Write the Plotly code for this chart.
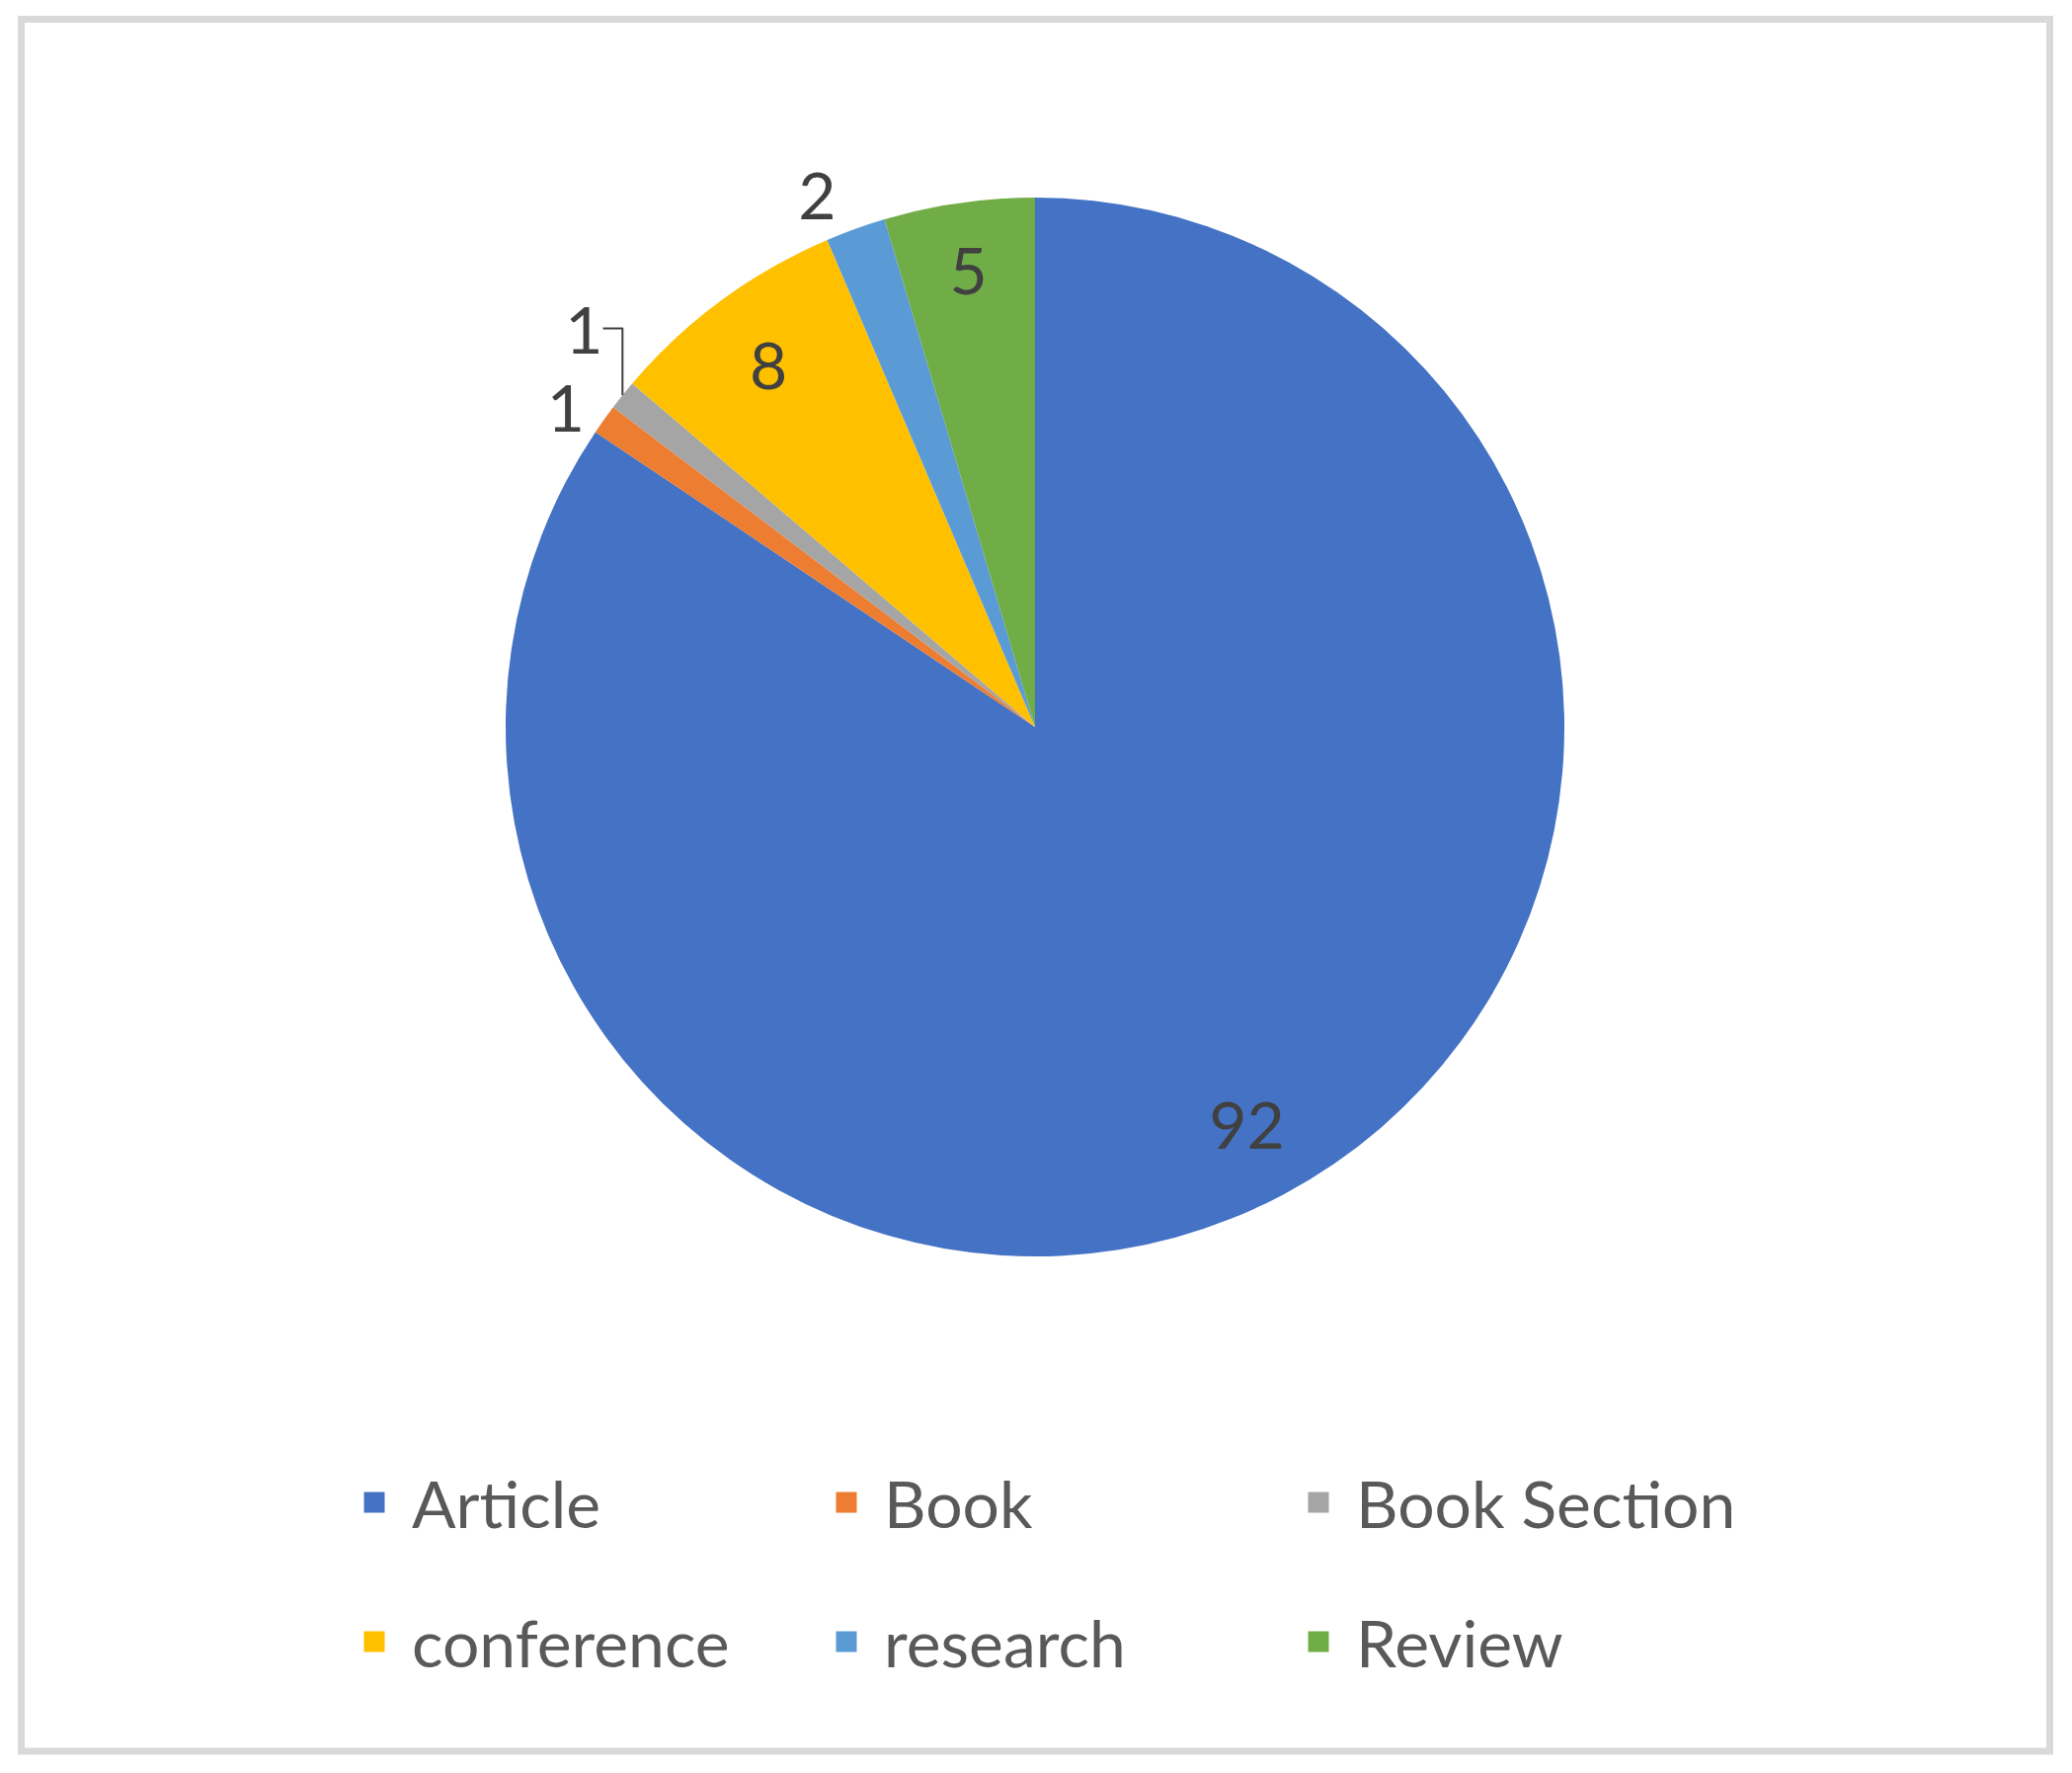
import plotly.graph_objects as go

# data
categories = ["Article", "Book", "Book Section", "conference", "research", "Review"]
counts = [92, 1, 1, 8, 2, 5]
slice_colors = ["#4472C4", "#ED7D31", "#A5A5A5", "#FFC000", "#5B9BD5", "#70AD47"]
label_positions = ["inside", "outside", "outside", "inside", "outside", "inside"]

# page has an 8px body margin, so the figure itself is a bit smaller
OFF = 8
W, H = 2098 - 2 * OFF, 1795 - 2 * OFF
ML, MR, MT, MB = 250, 250, 0, 0
pw, ph = W - ML - MR, H - MT - MB


def px_x(x):
    return (x - OFF - ML) / pw


def px_y(y):
    return 1 - (y - OFF - MT) / ph


# pie box (screenshot pixels)
cx, cy, r = 1048, 736, 536
dom = dict(x=[px_x(cx - r), px_x(cx + r)], y=[px_y(cy + r), px_y(cy - r)])

label_font = dict(family='Lato', size=66, color='#404040')

fig = go.Figure()

# filled slices
fig.add_trace(go.Pie(
    labels=categories, values=counts, sort=False,
    direction='clockwise', rotation=0,
    textinfo='none',
    marker=dict(colors=slice_colors, line=dict(width=0)),
    domain=dom, showlegend=False,
    hoverinfo='label+value',
))

# transparent ring on top: puts the inside values out near the rim
fig.add_trace(go.Pie(
    labels=categories, values=counts, sort=False,
    direction='clockwise', rotation=0, hole=0.7,
    textinfo='value', textposition=label_positions,
    insidetextorientation='horizontal',
    textfont=label_font,
    marker=dict(colors=['rgba(0,0,0,0)'] * len(counts), line=dict(width=0)),
    domain=dom, showlegend=False,
    hoverinfo='label+value',
))

# legend entries, three per row
for i, (name, col) in enumerate(zip(categories, slice_colors)):
    fig.add_trace(go.Scatter(
        x=[None], y=[None], mode='markers', name=name,
        marker=dict(symbol='square', size=40, color=col,
                    line=dict(color=col, width=5)),
        legend='legend' if i < 3 else 'legend2',
        hoverinfo='skip',
    ))

legend_style = dict(
    orientation='h',
    xanchor='left', yanchor='middle',
    itemwidth=66,
    entrywidth=397, entrywidthmode='pixels',
    font=dict(family='Lato', size=66, color='#595959'),
    bgcolor='rgba(0,0,0,0)',
)

fig.update_layout(
    width=W,
    height=H,
    margin=dict(l=ML, r=MR, t=MT, b=MB),
    paper_bgcolor='white',
    plot_bgcolor='white',
    xaxis=dict(visible=False),
    yaxis=dict(visible=False),
    legend=dict(x=px_x(341), y=px_y(1521), **legend_style),
    legend2=dict(x=px_x(341), y=px_y(1662), **legend_style),
    shapes=[dict(
        type='rect', xref='paper', yref='paper',
        x0=px_x(21.5), x1=px_x(2075.5),
        y0=px_y(1773), y1=px_y(19.5),
        line=dict(color='#D9D9D9', width=7),
        layer='below',
    )],
)

fig.write_html("out.html")
